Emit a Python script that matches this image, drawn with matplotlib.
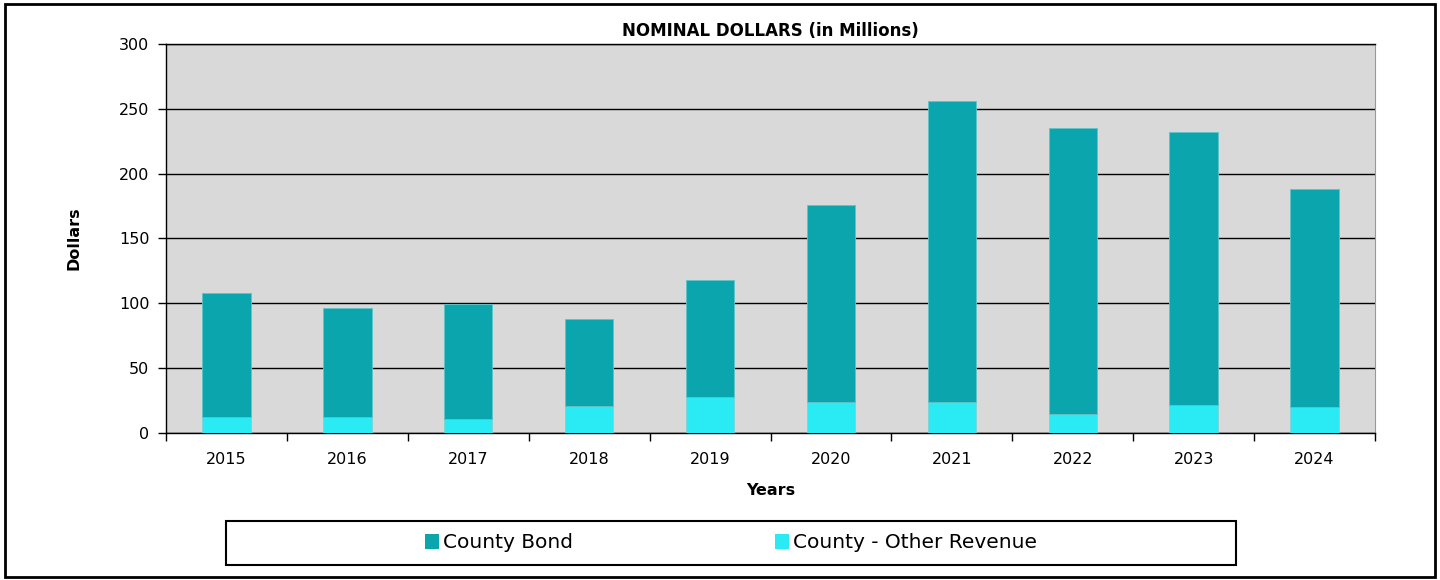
import matplotlib
matplotlib.use("Agg")
import matplotlib.pyplot as plt
from matplotlib.patches import Rectangle, Patch
import numpy as np

plt.rcParams['font.family'] = ['DejaVu Sans']

years = ["2015", "2016", "2017", "2018", "2019", "2020", "2021", "2022", "2023", "2024"]
other_revenue = [12.6, 12.1, 11.0, 20.6, 28.0, 24.2, 23.9, 14.7, 21.4, 19.8]
county_bond = [95.4, 84.0, 88.5, 67.6, 90.0, 151.6, 232.1, 220.5, 210.7, 168.4]

color_bond = "#0AA5AD"
color_other = "#2AEBF3"

fig = plt.figure(figsize=(14.4, 5.8), dpi=100)
fig.patches.append(Rectangle((5 / 1440, 3 / 580), 1430 / 1440, 573 / 580,
                             transform=fig.transFigure, fill=False,
                             edgecolor="black", linewidth=2))

ax = fig.add_axes([166 / 1440, 1 - 433 / 580, (1375 - 166) / 1440, (433 - 44) / 580])
ax.set_facecolor("#D9D9D9")

x = np.arange(len(years))
ax.bar(x, other_revenue, width=0.4, color=color_other, edgecolor="#7fd3d6",
       linewidth=0.6, zorder=3, label="County - Other Revenue")
ax.bar(x, county_bond, width=0.4, bottom=other_revenue, color=color_bond,
       edgecolor="#5ec4c8", linewidth=0.6, zorder=3, label="County Bond")

ax.set_xlim(-0.5, len(years) - 0.5)
ax.set_ylim(0, 300)
ax.set_yticks(range(0, 301, 50))
ax.yaxis.grid(True, color="black", linewidth=1, zorder=1)
ax.set_axisbelow(True)

ax.set_xticks(x)
ax.set_xticklabels(years, fontsize=11.5)
ax.tick_params(axis="x", which="major", length=0, pad=14)
ax.set_xticks(np.arange(-0.5, len(years), 1), minor=True)
ax.tick_params(axis="x", which="minor", length=6, width=1, direction="out")
ax.tick_params(axis="y", length=6, width=1, direction="out", labelsize=11.5, pad=6)

for side in ["left", "bottom", "top"]:
    ax.spines[side].set_color("black")
    ax.spines[side].set_linewidth(1)
ax.spines["right"].set_color("#999999")

ax.set_title("NOMINAL DOLLARS (in Millions)", fontsize=12, fontweight="bold", pad=6)
ax.set_ylabel("Dollars", fontsize=11.5, fontweight="bold", labelpad=27)
ax.set_xlabel("Years", fontsize=11.5, fontweight="bold", labelpad=11)

handles = [Patch(facecolor=color_bond, label="County Bond"),
           Patch(facecolor=color_other, label="County - Other Revenue")]
leg = fig.legend(handles=handles, loc="center",
                 bbox_to_anchor=(226 / 1440, 1 - 565 / 580, 1010 / 1440, 44 / 580),
                 ncol=2, fontsize=14.5, frameon=True, fancybox=False,
                 shadow=False, edgecolor="black", handlelength=0.7, handleheight=0.7,
                 handletextpad=0.2, columnspacing=10, borderaxespad=0)
leg.get_frame().set_visible(False)

fig.patches.append(Rectangle((226 / 1440, 1 - 565 / 580), 1010 / 1440, 44 / 580,
                             transform=fig.transFigure, fill=False,
                             edgecolor="black", linewidth=1.5))

fig.savefig("out.png", dpi=100)
